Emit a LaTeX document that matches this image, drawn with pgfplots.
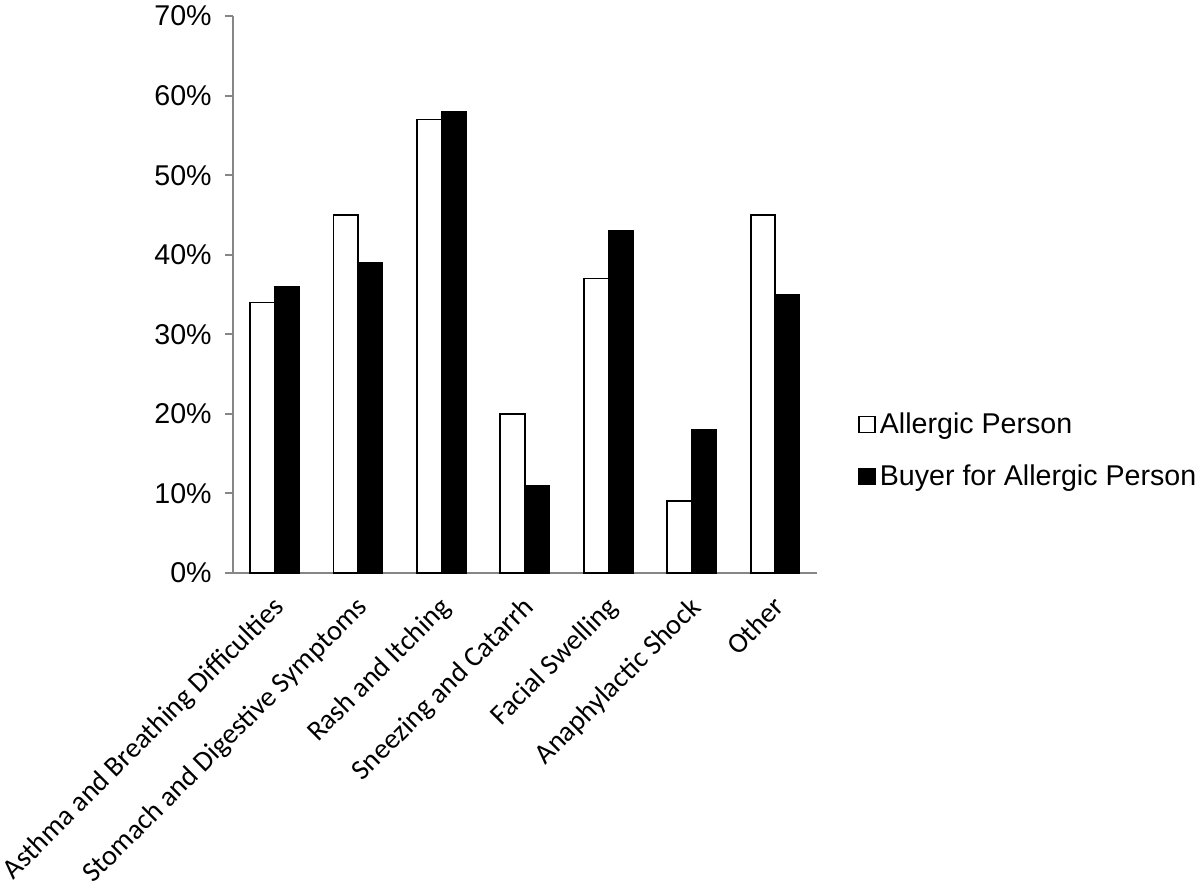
\documentclass[border=0pt]{standalone}
\usepackage{fontspec}
\setmainfont{Liberation Sans}
\newfontfamily\calfont{Carlito}
\usepackage{pgfplots}
\pgfplotsset{compat=1.18}
\definecolor{axgray}{RGB}{134,134,134}
\begin{document}
\begin{tikzpicture}
\begin{axis}[name=ax, scale only axis, width=292pt, height=278.5pt,
 ybar=0pt, bar width=12.3pt,
 xmin=-0.5, xmax=6.5, ymin=0, ymax=70,
 axis x line*=bottom, axis y line*=left,
 axis line style={axgray, line width=1pt, -},
 xtick={0,...,6},
 xticklabels={Asthma and Breathing Difficulties, Stomach and Digestive Symptoms, Rash and Itching, Sneezing and Catarrh, Facial Swelling, Anaphylactic Shock, Other},
 major x tick style={draw=none},
 extra x ticks={-0.5,0.5,...,6.5}, extra x tick labels={},
 extra x tick style={major x tick style={axgray, line width=1pt}, major tick length=5pt},
 ytick={0,10,...,70},
 yticklabel={\pgfmathprintnumber{\tick}\%},
 /pgf/number format/assume math mode=true,
 major y tick style={axgray, line width=1pt},
 tick align=outside, major tick length=4pt,
 yticklabel style={font=\fontsize{14.3}{16}\selectfont, inner xsep=6.5pt},
 xticklabel style={font=\calfont\fontsize{14.2}{16}\selectfont, rotate=45, anchor=north east, inner xsep=6pt, inner ysep=3.5pt},
 legend style={draw=none, at={(1.06,0.22)}, anchor=west, font=\fontsize{14.3}{16}\selectfont, row sep=10pt, legend cell align=left},
 legend image code/.code={\draw[#1, line width=0.75pt] (0pt,-4pt) rectangle (8pt,4pt);},
]
\addplot[draw=black, fill=white, line width=0.9pt] coordinates {(0,34) (1,45) (2,57) (3,20) (4,37) (5,9) (6,45)};
\addplot[draw=black, fill=black] coordinates {(0,36) (1,39) (2,58) (3,11) (4,43) (5,18) (6,35)};
\legend{Allergic Person, Buyer for Allergic Person}
\end{axis}
\pgfresetboundingbox
\path ([xshift=-116.5pt, yshift=-157.5pt]ax.south west) rectangle ([xshift=483.5pt, yshift=286.5pt]ax.south west);
\end{tikzpicture}
\end{document}
